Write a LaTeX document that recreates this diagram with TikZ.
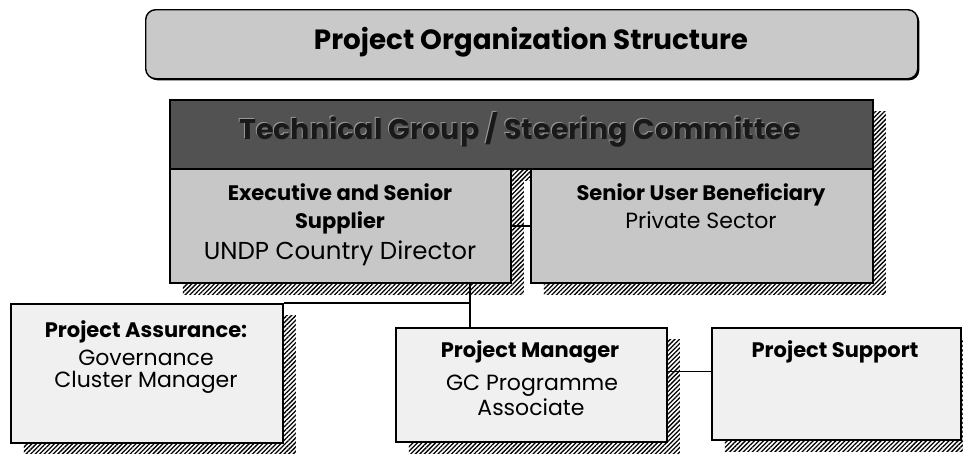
\documentclass[tikz,border=0pt]{standalone}
\usepackage{fontspec}
\setmainfont{Poppins}
\usetikzlibrary{patterns.meta,shadows}

\definecolor{titlefill}{gray}{0.79}
\definecolor{bandfill}{gray}{0.32}
\definecolor{bandtext}{gray}{0.10}
\definecolor{bandglow}{gray}{0.60}
\definecolor{upperfill}{gray}{0.78}
\definecolor{lowerfill}{gray}{0.94}

\tikzset{
  hatchshadow/.style={general shadow={shadow xshift=13pt, shadow yshift=-12pt,
      pattern={Lines[angle=45,distance=3.2pt,line width=1.3pt]}, pattern color=black}},
  box/.style={draw=black, line width=1.9pt, anchor=north west, inner sep=0pt, hatchshadow},
  link/.style={draw=black, line width=1.4pt},
  headtext/.style={anchor=base, inner sep=0pt, font=\bfseries\fontsize{21}{24}\selectfont},
  bodytext/.style={anchor=base, inner sep=0pt, font=\fontsize{22}{26}\selectfont},
  bigbody/.style={anchor=base, inner sep=0pt, font=\fontsize{24.5}{28}\selectfont},
}

\begin{document}
\begin{tikzpicture}[x=1pt, y=-1pt]
  \useasboundingbox (0,0) rectangle (963,453);

  % heading banner
  \node[draw=black, line width=1.4pt, rounded corners=10pt, fill=titlefill,
        anchor=north west, inner sep=0pt, minimum width=772pt, minimum height=69pt,
        general shadow={shadow xshift=1.6pt, shadow yshift=-1.6pt, fill=black}]
        (title) at (145,9) {};
  \node[anchor=base, inner sep=0pt, font=\bfseries\fontsize{27.8}{32}\selectfont]
        (titletext) at (531,49) {Project Organization Structure};

  % steering committee band and the two boards below it
  \node[box, fill=bandfill, minimum width=703pt, minimum height=69pt] (band) at (169,99) {};
  \node[anchor=base, inner sep=0pt, text=bandglow, font=\bfseries\fontsize{28.5}{34}\selectfont]
        (bandglowtext) at (519,138) {Technical Group / Steering Committee};
  \node[anchor=base, inner sep=0pt, text=bandtext, font=\bfseries\fontsize{28.5}{34}\selectfont]
        (bandtext) at (520,139) {Technical Group / Steering Committee};

  \node[box, fill=upperfill, minimum width=341pt, minimum height=114pt] (exec) at (169,168) {};
  \node[box, fill=upperfill, minimum width=342pt, minimum height=114pt] (senior) at (530,168) {};

  % lower row
  \node[box, fill=lowerfill, minimum width=272pt, minimum height=139pt] (assure) at (10,303) {};
  \node[box, fill=lowerfill, minimum width=271pt, minimum height=114pt] (pm) at (395,327) {};
  \node[box, fill=lowerfill, minimum width=249pt, minimum height=112pt] (ps) at (711,327) {};

  % box texts
  \node[headtext] (execA) at (340,200) {Executive and Senior};
  \node[headtext] (execB) at (340,228) {Supplier};
  \node[bigbody]  (execC) at (340,259) {UNDP Country Director};

  \node[headtext] (seniorA) at (701,200) {Senior User Beneficiary};
  \node[bodytext] (seniorB) at (701,228) {Private Sector};

  \node[headtext] (assureA) at (146,337) {Project Assurance:};
  \node[bodytext] (assureB) at (146,365) {Governance};
  \node[bodytext] (assureC) at (146,387) {Cluster Manager};

  \node[headtext] (pmA) at (530,357) {Project Manager};
  \node[bodytext] (pmB) at (532,390) {GC Programme};
  \node[bodytext] (pmC) at (531,415) {Associate};

  \node[headtext] (psA) at (835,357) {Project Support};

  % connectors
  \coordinate (split) at (470,303);
  \draw[link] (exec.east) -- (senior.west);
  \draw[link] (exec.south -| split) -- (split);
  \draw[link] (split) -- (assure.north east);
  \draw[link] (split) -- (split |- pm.north);
  \draw[link] ([yshift=13.5pt]pm.east) -- ([yshift=13.5pt]pm.east -| ps.west);
\end{tikzpicture}
\end{document}
